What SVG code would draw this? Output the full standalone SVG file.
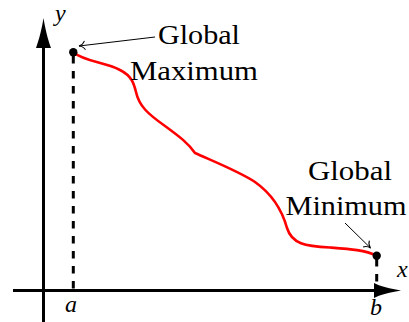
<svg xmlns="http://www.w3.org/2000/svg" width="409" height="322" viewBox="0 0 409 322">
<style>
.lbl{font-family:'Liberation Serif',serif;font-size:28px;fill:#000}
.var{font-family:'Liberation Serif',serif;font-style:italic;font-size:24px;fill:#000}
.axis{stroke:#000;stroke-width:3;fill:none}
.dash{stroke:#000;stroke-width:3;stroke-dasharray:7.5 7.5;fill:none}
.thin{stroke:#000;stroke-width:1;fill:none}
</style>
<defs>
<marker id="to" markerWidth="12" markerHeight="12" viewBox="-8 -6 10 12" refX="0" refY="0" orient="auto" markerUnits="userSpaceOnUse">
<path d="M-6,-4.5 C-4.5,-1.5 -1.5,-0.3 0,0 C-1.5,0.3 -4.5,1.5 -6,4.5" fill="none" stroke="#000" stroke-width="1"/>
</marker>
</defs>
<g id="axes">
<line class="axis" x1="43.5" y1="322" x2="43.5" y2="40"/>
<path d="M43.5,18 C45,28 48,40 51,48 L36,48 C39,40 42,28 43.5,18 Z" fill="#000"/>
<line class="axis" x1="13" y1="290.5" x2="380" y2="290.5"/>
<path d="M401,290.5 C391,292 379,295 374,298 L374,283 C379,286 391,289 401,290.5 Z" fill="#000"/>
</g>
<g id="dashes">
<line class="dash" x1="73.3" y1="56" x2="73.3" y2="290"/>
<line class="dash" x1="376.7" y1="259" x2="376.7" y2="290"/>
</g>
<g id="curve">
<path d="M73.3,52.3 C85,62 105,62 120,70 C132,76 134,84 136,92 C139,106 148,114 165,126 C180,137 188,143 195,153 C215,162 240,172 255,182 C272,194 282,210 287,228 C292,244 305,246 330,247.5 C350,249 365,250 376.7,255.7" fill="none" stroke="#ff0000" stroke-width="2.6"/>
</g>
<g id="max-point">
<circle cx="73.3" cy="52.3" r="4.2" fill="#000"/>
</g>
<g id="min-point">
<circle cx="376.7" cy="255.7" r="4.2" fill="#000"/>
</g>
<g id="connectors">
<line class="thin" x1="155" y1="37" x2="79" y2="46" marker-end="url(#to)"/>
<line class="thin" x1="345" y1="223" x2="370.5" y2="248" marker-end="url(#to)"/>
</g>
<g id="label-max">
<text class="lbl" x="199" y="44" text-anchor="middle" textLength="82" lengthAdjust="spacingAndGlyphs">Global</text>
<text class="lbl" x="194" y="80" text-anchor="middle" textLength="128" lengthAdjust="spacingAndGlyphs">Maximum</text>
</g>
<g id="label-min">
<text class="lbl" x="350" y="180" text-anchor="middle" textLength="84" lengthAdjust="spacingAndGlyphs">Global</text>
<text class="lbl" x="346" y="215" text-anchor="middle" textLength="121" lengthAdjust="spacingAndGlyphs">Minimum</text>
</g>
<g id="axis-labels">
<text class="var" x="55" y="21">y</text>
<text class="var" x="397" y="277">x</text>
<text class="var" x="65" y="312">a</text>
<text class="var" x="370" y="315">b</text>
</g>
</svg>
